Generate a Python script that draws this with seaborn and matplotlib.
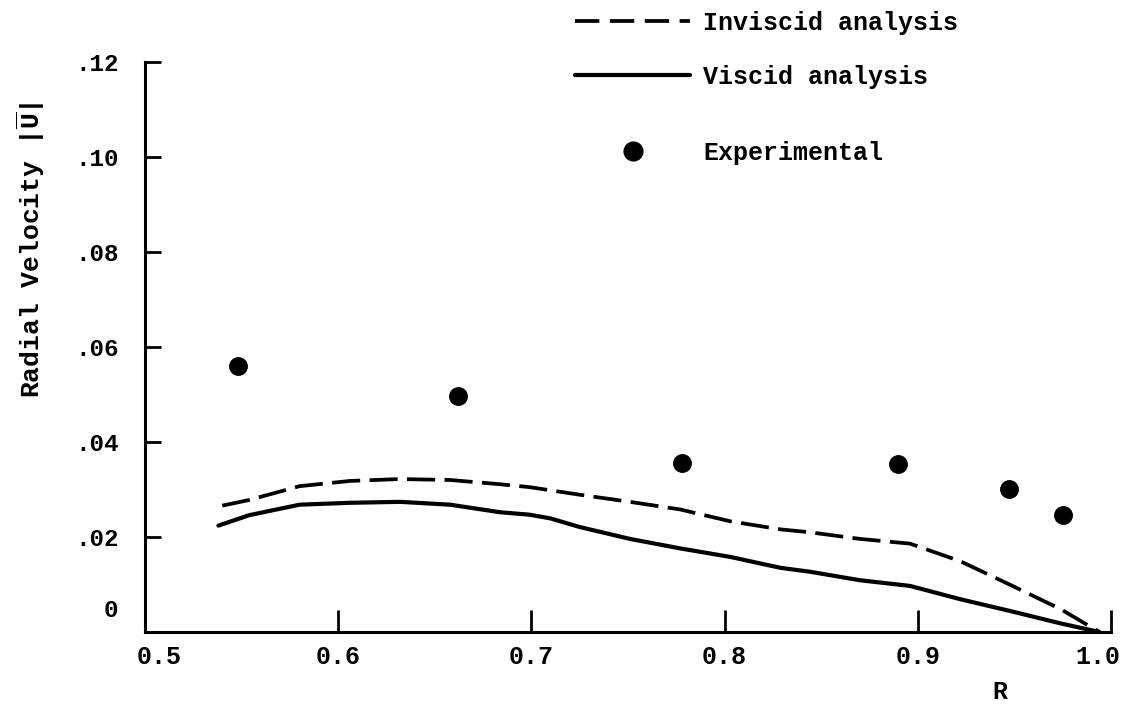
import matplotlib
matplotlib.use("Agg")
import matplotlib.pyplot as plt
import numpy as np
import pandas as pd
import seaborn as sns
from matplotlib.lines import Line2D
from matplotlib.transforms import ScaledTranslation

# ---- data ----
R_inviscid = [0.540, 0.554, 0.580, 0.606, 0.632, 0.658, 0.684, 0.699, 0.725, 0.751,
              0.777, 0.803, 0.829, 0.844, 0.870, 0.896, 0.922, 0.948, 0.974, 0.994]
U_inviscid = [0.0266, 0.0278, 0.0307, 0.0318, 0.0322, 0.0320, 0.0311, 0.0305, 0.0289, 0.0274,
              0.0258, 0.0233, 0.0216, 0.0210, 0.0196, 0.0186, 0.0149, 0.0099, 0.0048, 0.0]

R_viscid = [0.538, 0.554, 0.580, 0.606, 0.632, 0.658, 0.684, 0.699, 0.710, 0.725, 0.751,
            0.777, 0.803, 0.829, 0.844, 0.870, 0.896, 0.922, 0.948, 0.974, 0.994]
U_viscid = [0.0224, 0.0246, 0.0268, 0.0272, 0.0274, 0.0268, 0.0252, 0.0247, 0.0239, 0.0221, 0.0196,
            0.0176, 0.0158, 0.0135, 0.0127, 0.0109, 0.0097, 0.0069, 0.0044, 0.0018, 0.0]

R_exp = [0.548, 0.662, 0.778, 0.890, 0.947, 0.975]
U_exp = [0.0560, 0.0497, 0.0355, 0.0353, 0.0301, 0.0247]

x_ticks = [0.5, 0.6, 0.7, 0.8, 0.9, 1.0]
x_tick_labels = ["0.5", "0.6", "0.7", "0.8", "0.9", "1.0"]
y_ticks = [0.0, 0.02, 0.04, 0.06, 0.08, 0.10, 0.12]
y_tick_labels = ["0", ".02", ".04", ".06", ".08", ".10", ".12"]

legend_labels = ["Inviscid analysis", "Viscid analysis", "Experimental"]
x_label = "R"
y_label = r"Radial Velocity $|\overline{\mathrm{U}}|$"

df_inv = pd.DataFrame({"R": R_inviscid, "U": U_inviscid})
df_vis = pd.DataFrame({"R": R_viscid, "U": U_viscid})
df_exp = pd.DataFrame({"R": R_exp, "U": U_exp})

# ---- style ----
sns.set_theme(style="white")
plt.rcParams["font.family"] = ["Liberation Mono", "DejaVu Sans Mono"]
plt.rcParams["font.weight"] = "bold"
plt.rcParams["mathtext.fontset"] = "custom"
plt.rcParams["mathtext.rm"] = "Liberation Mono:bold"
plt.rcParams["mathtext.default"] = "regular"
plt.rcParams["text.color"] = "black"

W, H = 1129, 705
fig = plt.figure(figsize=(W / 100, H / 100), dpi=100)
fig.patch.set_facecolor("white")
ax = fig.add_axes([145 / W, (H - 632) / H, 966 / W, 570 / H])
ax.set_facecolor("white")

dash_style = (0, (7.5, 2.5))
sns.lineplot(data=df_inv, x="R", y="U", ax=ax, color="black", linewidth=2.7,
             linestyle=dash_style, errorbar=None, legend=False)
sns.lineplot(data=df_vis, x="R", y="U", ax=ax, color="black", linewidth=3.0,
             errorbar=None, legend=False)
sns.scatterplot(data=df_exp, x="R", y="U", ax=ax, color="black", s=185,
                linewidth=0, zorder=3, legend=False)

ax.set_xlim(0.5, 1.0)
ax.set_ylim(0.0, 0.12)

for s in ["top", "right"]:
    ax.spines[s].set_visible(False)
for s in ["left", "bottom"]:
    ax.spines[s].set_color("black")
    ax.spines[s].set_linewidth(2.2)

ax.set_xticks(x_ticks, x_tick_labels)
ax.set_yticks(y_ticks, y_tick_labels)
ax.tick_params(axis="x", direction="in", length=16, width=2, pad=9,
               labelsize=18, colors="black", bottom=True)
ax.tick_params(axis="y", direction="in", length=11.5, width=2, pad=19,
               labelsize=17.5, colors="black", left=True)

ax.set_xlabel(x_label, fontsize=18, color="black", fontweight="bold")
ax.xaxis.set_label_coords((1000 - 145) / 966, -(680 - 632) / 570)
ax.set_ylabel(y_label, fontsize=19, color="black", fontweight="bold")
ax.yaxis.set_label_coords(-0.101, 0.67)

# legends
h_inv = Line2D([], [], color="black", linewidth=2.7, linestyle=(0, (6.5, 2.8)))
h_vis = Line2D([], [], color="black", linewidth=3.0)
h_exp = Line2D([], [], color="black", marker="o", linestyle="none", markersize=13.5)

leg1 = ax.legend(handles=[h_inv, h_vis], labels=legend_labels[:2], loc="upper left",
                 bbox_to_anchor=(575 / W, 1 - 11 / H), bbox_transform=fig.transFigure,
                 frameon=False, handlelength=4.6, handletextpad=0.52, labelspacing=1.2,
                 borderpad=0, borderaxespad=0, prop={"size": 18, "weight": "bold"})
ax.add_artist(leg1)
leg2 = ax.legend(handles=[h_exp], labels=legend_labels[2:], loc="upper left",
                 bbox_to_anchor=(575 / W, 1 - 141 / H), bbox_transform=fig.transFigure,
                 frameon=False, handlelength=4.6, handletextpad=0.52,
                 borderpad=0, borderaxespad=0, prop={"size": 18, "weight": "bold"})

# small label offsets seen in the reference
for lab in ax.get_yticklabels():
    lab.set_fontweight("bold")
    if lab.get_text() == "0":
        lab.set_transform(lab.get_transform() + ScaledTranslation(0, 24 / 100, fig.dpi_scale_trans))
for lab in ax.get_xticklabels():
    lab.set_fontweight("bold")
    if lab.get_text() == "0.5":
        lab.set_transform(lab.get_transform() + ScaledTranslation(14 / 100, 0, fig.dpi_scale_trans))
    if lab.get_text() == "1.0":
        lab.set_transform(lab.get_transform() + ScaledTranslation(-13 / 100, 0, fig.dpi_scale_trans))

fig.savefig("out.png", dpi=100, facecolor="white")
